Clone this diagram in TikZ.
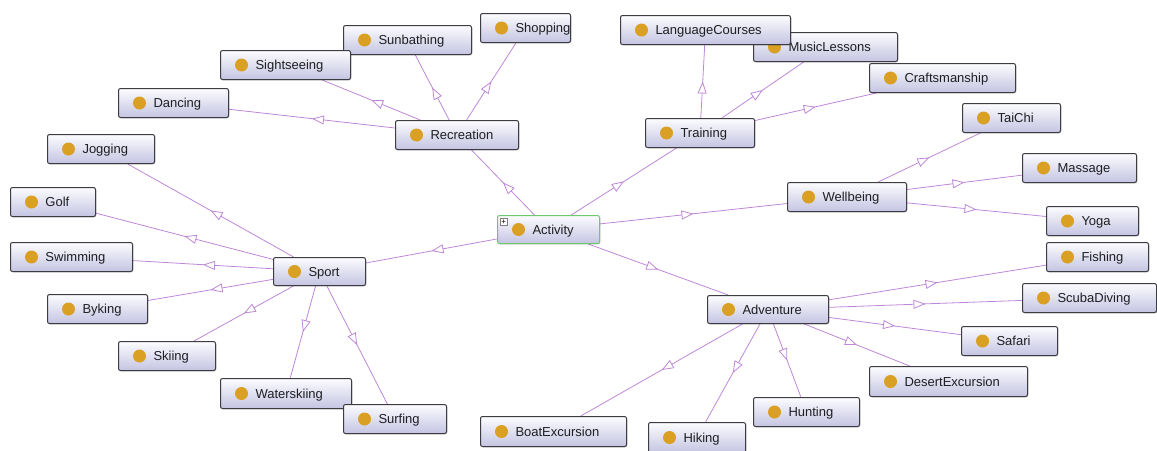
\documentclass[tikz,border=0pt]{standalone}
\usepackage{fontspec}
\setmainfont{Liberation Sans}
\usetikzlibrary{arrows.meta,decorations.markings,shadows}
\definecolor{edgecol}{RGB}{190,135,215}
\definecolor{dotcol}{RGB}{218,160,35}
\definecolor{boxtop}{RGB}{252,252,255}
\definecolor{boxbot}{RGB}{196,196,226}
\definecolor{boxline}{RGB}{60,60,66}
\definecolor{rootline}{RGB}{110,200,110}
\definecolor{labelcol}{RGB}{30,30,35}
\pgfdeclarelayer{bg}
\pgfsetlayers{bg,main}
\tikzset{
  classbox/.style={draw=boxline, line width=1pt, rounded corners=2pt,
    top color=boxtop, bottom color=boxbot, inner xsep=0pt, inner ysep=0pt,
    text=labelcol, font=\fontsize{13}{15}\selectfont,
    text height=10pt, text depth=0.4pt,
    drop shadow={shadow xshift=0.8pt, shadow yshift=-0.8pt, fill=black, opacity=0.25},
    path picture={\fill[dotcol] ([xshift=21pt]path picture bounding box.west) circle (6.5pt);}},
  isa/.style={draw=edgecol, line width=0.8pt, postaction={decorate},
    decoration={markings, mark=at position 0.5 with
      {\arrow{Triangle[length=12pt,width=9pt,fill=white,line width=0.8pt]}}}}
}
% \owlclass{name}{x1}{y1}{x2}{y2}{label}: class box by its corners
\newcommand{\owlclass}[7][]{%
  \pgfmathsetmacro{\bw}{#5-#3}\pgfmathsetmacro{\bh}{#6-#4}%
  \node[classbox, #1, minimum width=\bw pt, minimum height=\bh pt, anchor=north west]
    (#2) at (#3,#4) {\makebox[\bw pt][l]{\hspace{35pt}#7}};%
}
\begin{document}
\begin{tikzpicture}[x=1pt,y=-1pt]
\useasboundingbox (0,0) rectangle (1157,450);

% root
\owlclass[draw=rootline]{act}{497}{215}{599}{243}{Activity}
\node[draw=gray, fill=white, minimum size=7pt, inner sep=0pt, line width=0.5pt,
  font=\fontsize{8}{8}\selectfont, anchor=north west] (actplus)
  at ([xshift=3pt,yshift=-3pt]act.north west) {+};

% Recreation
\owlclass{rec}{395}{120}{518}{149}{Recreation}
\owlclass{shop}{480}{13}{570}{42}{Shopping}
\owlclass{sun}{343}{25}{471}{54}{Sunbathing}
\owlclass{sight}{220}{50}{350}{79}{Sightseeing}
\owlclass{dance}{118}{88}{228}{117}{Dancing}

% Training
\owlclass{train}{645}{118}{754}{147}{Training}
\owlclass{music}{753}{32}{897}{61}{MusicLessons}
\owlclass{lang}{620}{15}{790}{44}{LanguageCourses}
\owlclass{craft}{869}{63}{1015}{92}{Craftsmanship}

% Wellbeing
\owlclass{well}{787}{182}{906}{211}{Wellbeing}
\owlclass{tai}{962}{103}{1060}{132}{TaiChi}
\owlclass{mass}{1022}{153}{1136}{182}{Massage}
\owlclass{yoga}{1046}{206}{1138}{235}{Yoga}

% Sport
\owlclass{sport}{273}{257}{365}{285}{Sport}
\owlclass{jog}{47}{134}{154}{163}{Jogging}
\owlclass{golf}{10}{187}{95}{216}{Golf}
\owlclass{swim}{10}{242}{132}{271}{Swimming}
\owlclass{byk}{47}{294}{147}{323}{Byking}
\owlclass{ski}{118}{341}{215}{370}{Skiing}
\owlclass{wski}{220}{378}{351}{408}{Waterskiing}
\owlclass{surf}{343}{404}{446}{433}{Surfing}

% Adventure
\owlclass{adv}{707}{295}{828}{323}{Adventure}
\owlclass{fish}{1046}{242}{1148}{271}{Fishing}
\owlclass{scuba}{1022}{283}{1156}{312}{ScubaDiving}
\owlclass{safari}{961}{326}{1057}{355}{Safari}
\owlclass{desert}{869}{366}{1027}{396}{DesertExcursion}
\owlclass{hunt}{753}{397}{859}{426}{Hunting}
\owlclass{boat}{480}{416}{626}{446}{BoatExcursion}
\owlclass{hike}{648}{422}{745}{452}{Hiking}

% subclass links, drawn beneath the boxes
\begin{pgfonlayer}{bg}
\foreach \c in {rec,train,well,adv,sport} \draw[isa] (act) -- (\c);
\foreach \c in {dance,sight,sun,shop} \draw[isa] (rec) -- (\c);
\foreach \c in {lang,music,craft} \draw[isa] (train) -- (\c);
\foreach \c in {tai,mass,yoga} \draw[isa] (well) -- (\c);
\foreach \c in {jog,golf,swim,byk,ski,wski,surf} \draw[isa] (sport) -- (\c);
\foreach \c in {fish,scuba,safari,desert,hunt,hike,boat} \draw[isa] (adv) -- (\c);
\end{pgfonlayer}
\end{tikzpicture}
\end{document}
